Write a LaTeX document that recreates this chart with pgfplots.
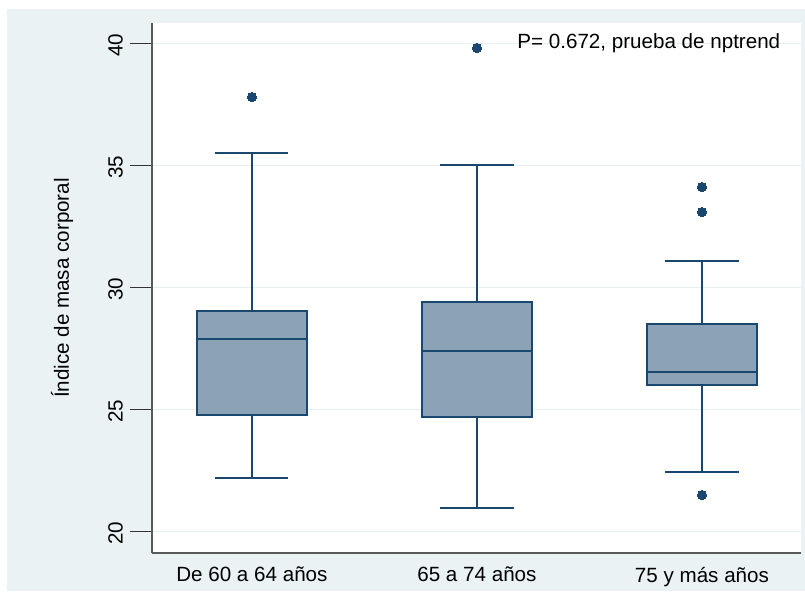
\documentclass[border=0pt]{standalone}
\usepackage{fontspec}
\setmainfont{Liberation Sans}
\usepackage{pgfplots}
\pgfplotsset{compat=1.18}
\usepgfplotslibrary{statistics}
\definecolor{outerbg}{HTML}{EAF2F3}
\definecolor{gridc}{HTML}{E6EEF0}
\definecolor{navy}{HTML}{1A476F}
\definecolor{boxfill}{HTML}{8CA2B6}
\begin{document}
\begin{tikzpicture}
\path[use as bounding box] (0,0) rectangle (402.5pt,295.5pt);
\fill[outerbg] (3.5pt,0) rectangle (402.5pt,291pt);
\begin{axis}[
  at={(76pt,19pt)}, anchor=south west,
  scale only axis, width=324.5pt, height=265pt,
  xmin=0.556, xmax=3.44, ymin=19.1, ymax=40.82,
  axis background/.style={fill=white},
  axis x line*=bottom, axis y line*=left,
  axis line style={-, black!65, line width=0.6pt},
  xtick={1,2,3},
  xticklabels={De 60 a 64 años, 65 a 74 años, 75 y más años},
  xtick style={draw=none},
  ytick={20,25,30,35,40},
  tick align=outside, major tick length=11pt,
  ytick style={black!80, line width=0.5pt},
  ymajorgrids, grid style={gridc, line width=0.5pt},
  font=\fontsize{10.3}{12}\selectfont,
  /pgf/number format/assume math mode=true,
  yticklabel style={rotate=90, anchor=south, xshift=-1pt, font=\fontsize{10.3}{12}\selectfont},
  xticklabel style={yshift=7.5pt, font=\fontsize{10.3}{12}\selectfont},
  ylabel={Índice de masa corporal},
  every axis y label/.style={at={(axis description cs:-0.1387,0.5)}, rotate=90, anchor=center, font=\fontsize{10.3}{12}\selectfont},
  boxplot/draw direction=y,
  clip=false,
]
\addplot[draw=navy, fill=boxfill, line width=1pt, solid, mark=*, mark size=2.3pt, mark options={fill=navy, draw=navy, line width=0pt},
  boxplot prepared={median=27.87, upper quartile=29.02, lower quartile=24.75, upper whisker=35.49, lower whisker=22.17, draw position=1, box extend=0.49, whisker extend=0.325}]
  table[row sep=\\, y index=0] {data\\37.79\\};
\addplot[draw=navy, fill=boxfill, line width=1pt, solid, mark=*, mark size=2.3pt, mark options={fill=navy, draw=navy, line width=0pt},
  boxplot prepared={median=27.38, upper quartile=29.39, lower quartile=24.67, upper whisker=35.0, lower whisker=20.94, draw position=2, box extend=0.49, whisker extend=0.325}]
  table[row sep=\\, y index=0] {data\\39.8\\};
\addplot[draw=navy, fill=boxfill, line width=1pt, solid, mark=*, mark size=2.3pt, mark options={fill=navy, draw=navy, line width=0pt},
  boxplot prepared={median=26.52, upper quartile=28.48, lower quartile=25.98, upper whisker=31.07, lower whisker=22.42, draw position=3, box extend=0.49, whisker extend=0.325}]
  table[row sep=\\, y index=0] {data\\34.1\\33.07\\21.48\\};
\node[anchor=west, inner sep=0pt, font=\fontsize{10.3}{12}\selectfont] at (rel axis cs:0.5624,0.962) {P= 0.672, prueba de nptrend};
\end{axis}
\end{tikzpicture}
\end{document}
